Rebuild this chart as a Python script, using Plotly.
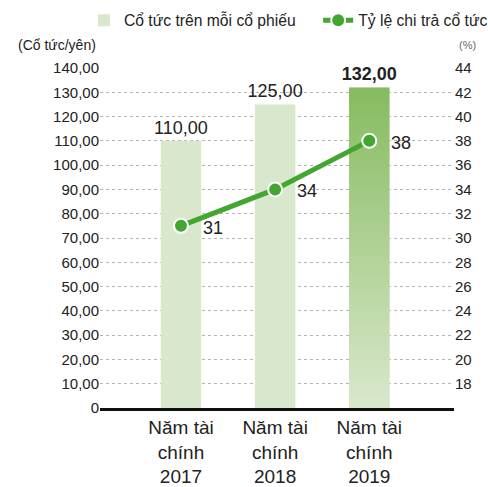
import plotly.graph_objects as go

categories = ["Năm tài<br>chính<br>2017", "Năm tài<br>chính<br>2018", "Năm tài<br>chính<br>2019"]
dividend = [110.0, 125.0, 132.0]
payout = [31, 34, 38]
left_ticks = [0, 10, 20, 30, 40, 50, 60, 70, 80, 90, 100, 110, 120, 130, 140]
right_ticks = [18, 20, 22, 24, 26, 28, 30, 32, 34, 36, 38, 40, 42, 44]

FONT = "Liberation Sans, Arial, sans-serif"
LIGHT = "#d9e8cc"
DARK = "#86bb5f"
LINE = "#42a631"
BAR_W = 0.43

xs = list(range(len(categories)))


def fmt(v):
    return f"{v:.2f}".replace(".", ",")


bar_text = [fmt(v) if v != max(dividend) else f"<b>{fmt(v)}</b>" for v in dividend]

fig = go.Figure()
fig.add_trace(go.Bar(
    x=xs, y=dividend, width=BAR_W, marker=dict(color=LIGHT, line=dict(width=0)),
    name="Cổ tức trên mỗi cổ phiếu", text=bar_text, textposition="outside",
    constraintext="none",
    textfont=dict(size=18, color="#222", family=FONT), cliponaxis=False,
    legend="legend",
))

# gradient fill for the latest year bar
i_last = len(dividend) - 1
v_last = dividend[i_last]
fig.add_trace(go.Scatter(
    x=[i_last - BAR_W / 2, i_last + BAR_W / 2, i_last + BAR_W / 2, i_last - BAR_W / 2, i_last - BAR_W / 2],
    y=[0, 0, v_last, v_last, 0], mode="lines", line=dict(width=0), fill="toself",
    fillgradient=dict(type="vertical", colorscale=[[0, LIGHT], [1, DARK]]),
    showlegend=False, hoverinfo="skip",
))

fig.add_trace(go.Scatter(
    x=xs, y=payout, yaxis="y2", mode="lines+markers", name="Tỷ lệ chi trả cổ tức",
    line=dict(color=LINE, width=5),
    marker=dict(size=14, color=LINE, line=dict(color="white", width=2)),
    cliponaxis=False, legend="legend2",
))

for x, v in zip(xs, payout):
    fig.add_annotation(x=x, y=v, yref="y2", text=str(v), showarrow=False,
                       xshift=32, yshift=-2, font=dict(size=18, color="#222", family=FONT))

fig.add_annotation(x=0, y=1.068, xref="paper", yref="paper", text="(Cổ tức/yên)",
                   showarrow=False, xanchor="right", yanchor="middle", xshift=-2,
                   font=dict(size=14, color="#222", family=FONT))
fig.add_annotation(x=1, y=1.068, xref="paper", yref="paper", text="(%)",
                   showarrow=False, xanchor="left", yanchor="middle", xshift=3,
                   font=dict(size=11, color="#666", family=FONT))

fig.update_layout(
    width=488, height=487,
    margin=dict(l=100, r=34, t=68, b=79, autoexpand=False),
    plot_bgcolor="white", paper_bgcolor="white",
    font=dict(family=FONT, color="#222"),
    xaxis=dict(range=[-0.86, 2.9], tickvals=xs, ticktext=categories, showgrid=False,
               showline=True, linecolor="#111", linewidth=3, ticks="", zeroline=False,
               tickfont=dict(size=19, color="#222", family=FONT)),
    yaxis=dict(range=[0, 140], tickvals=left_ticks,
               ticktext=["0"] + [fmt(v) for v in left_ticks[1:]],
               showgrid=True, gridcolor="#b5b5b5", griddash="dot", gridwidth=1,
               zeroline=False, ticks="", tickfont=dict(size=15, color="#222", family=FONT)),
    yaxis2=dict(range=[16, 44], tickvals=right_ticks, overlaying="y", side="right",
                showgrid=False, zeroline=False, ticks="",
                tickfont=dict(size=15, color="#222", family=FONT)),
    legend=dict(orientation="h", xref="container", yref="container", x=0.172, y=0.958,
                xanchor="left", yanchor="middle", font=dict(size=15.7, color="#222", family=FONT),
                bgcolor="rgba(0,0,0,0)"),
    legend2=dict(orientation="h", xref="container", yref="container", x=0.652, y=0.958,
                 xanchor="left", yanchor="middle", font=dict(size=15.7, color="#222", family=FONT),
                 bgcolor="rgba(0,0,0,0)"),
    showlegend=True,
)

fig.write_html("out.html", config={"displayModeBar": False},
               post_script="document.body.style.margin='0';")
